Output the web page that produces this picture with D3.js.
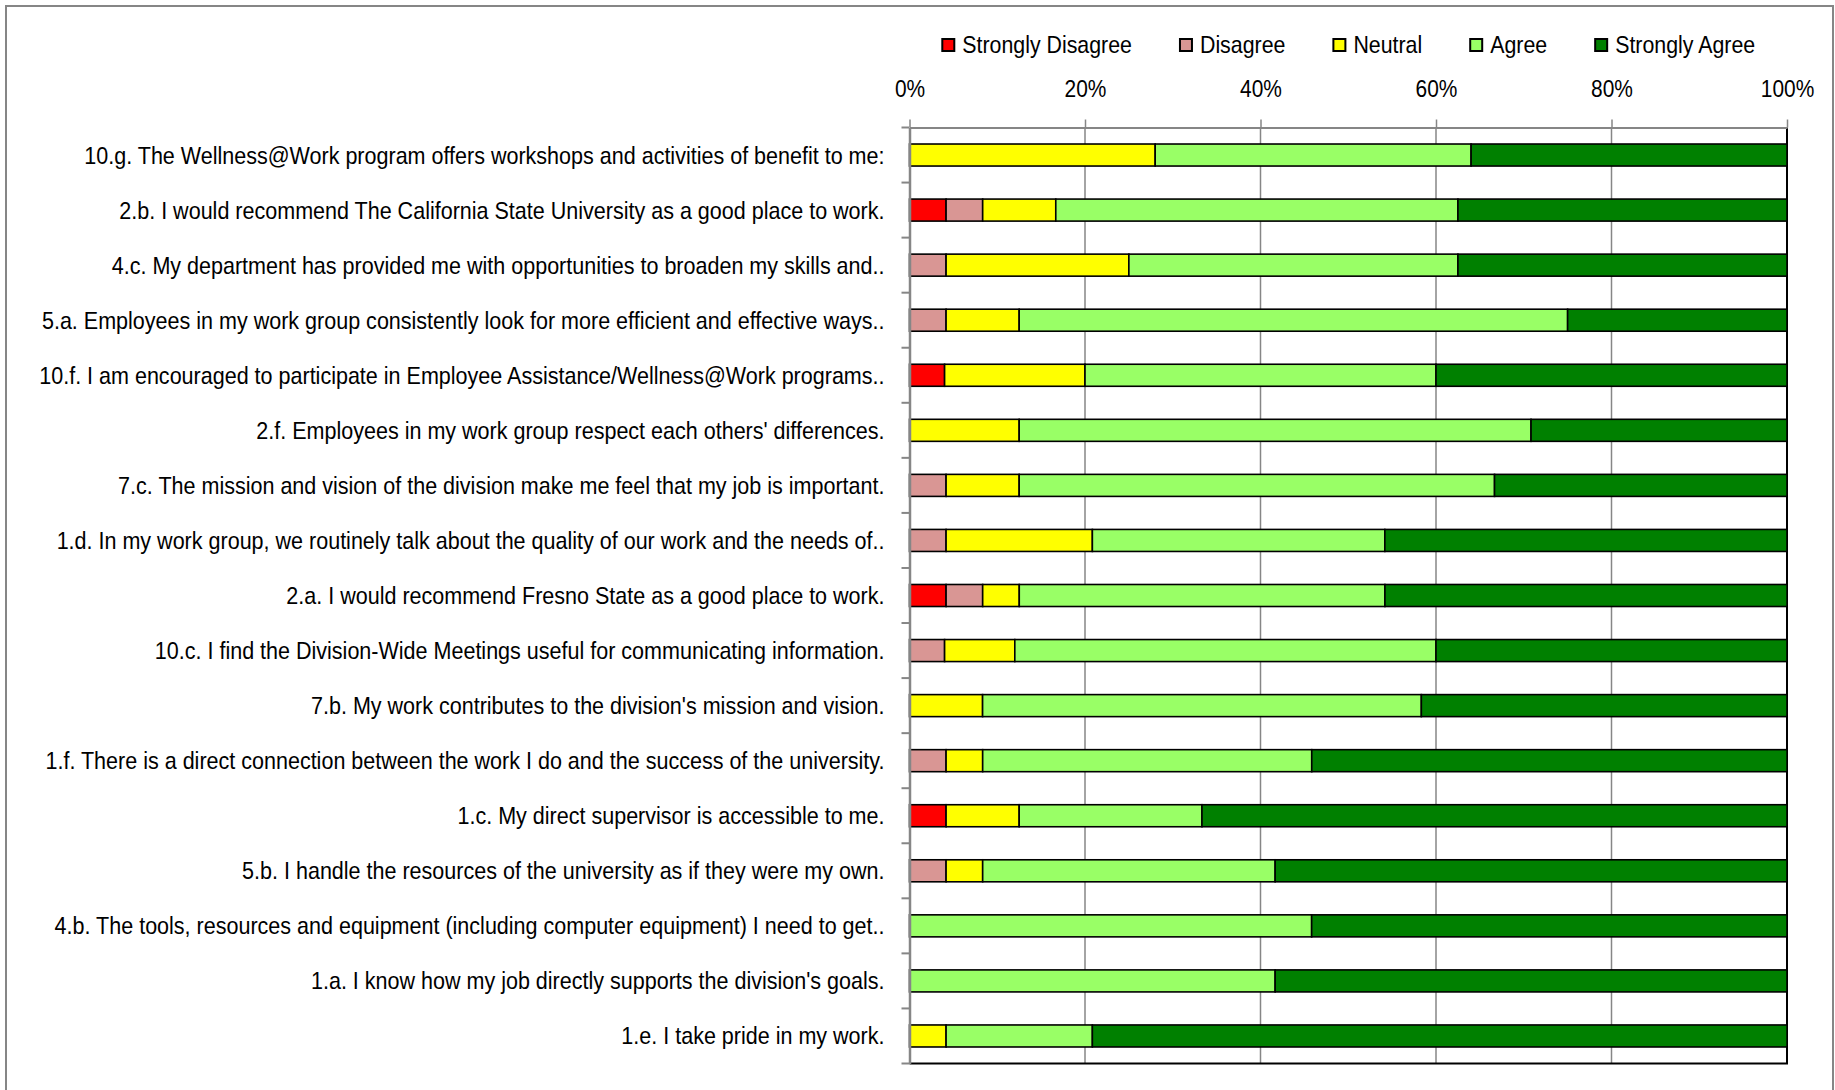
<!DOCTYPE html>
<html>
<head>
<meta charset="utf-8">
<script src="https://cdn.jsdelivr.net/npm/d3@7"></script>
<style>
  html, body { margin: 0; padding: 0; background: #fff; }
  svg { display: block; }
  text { font-family: "Liberation Sans", Arial, sans-serif; fill: #000; }
</style>
</head>
<body>
<svg id="chart" width="1835" height="1090"></svg>
<script>
// Survey statements, top to bottom
const categories = [
  "10.g. The Wellness@Work program offers workshops and activities of benefit to me:",
  "2.b. I would recommend The California State University as a good place to work.",
  "4.c. My department has provided me with opportunities to broaden my skills and..",
  "5.a. Employees in my work group consistently look for more efficient and effective ways..",
  "10.f. I am encouraged to participate in Employee Assistance/Wellness@Work programs..",
  "2.f. Employees in my work group respect each others' differences.",
  "7.c. The mission and vision of the division make me feel that my job is important.",
  "1.d. In my work group, we routinely talk about the quality of our work and the needs of..",
  "2.a. I would recommend Fresno State as a good place to work.",
  "10.c. I find the Division-Wide Meetings useful for communicating information.",
  "7.b. My work contributes to the division's mission and vision.",
  "1.f. There is a direct connection between the work I do and the success of the university.",
  "1.c. My direct supervisor is accessible to me.",
  "5.b. I handle the resources of the university as if they were my own.",
  "4.b. The tools, resources and equipment (including computer equipment) I need to get..",
  "1.a. I know how my job directly supports the division's goals.",
  "1.e. I take pride in my work."
];

// Share of responses (%) per statement
const stronglyDisagree = [0, 4.17, 0, 0, 4, 0, 0, 0, 4.17, 0, 0, 0, 4.17, 0, 0, 0, 0];
const disagree         = [0, 4.17, 4.17, 4.17, 0, 0, 4.17, 4.17, 4.17, 4, 0, 4.17, 0, 4.17, 0, 0, 0];
const neutral          = [28, 8.33, 20.83, 8.33, 16, 12.5, 8.33, 16.67, 4.17, 8, 8.33, 4.17, 8.33, 4.17, 0, 0, 4.17];
const agree            = [36, 45.83, 37.5, 62.5, 40, 58.33, 54.17, 33.33, 41.67, 48, 50, 37.5, 20.83, 33.33, 45.83, 41.67, 16.67];
const stronglyAgree    = [36, 37.5, 37.5, 25, 40, 29.17, 33.33, 45.83, 45.83, 40, 41.67, 54.17, 66.67, 58.33, 54.17, 58.33, 79.17];

const seriesNames  = ["Strongly Disagree", "Disagree", "Neutral", "Agree", "Strongly Agree"];
const seriesColors = ["#FF0000", "#D99694", "#FFFF00", "#99FF66", "#008000"];
const tickValues   = [0, 20, 40, 60, 80, 100];

const seriesValues = [stronglyDisagree, disagree, neutral, agree, stronglyAgree];
const rows = categories.map((c, i) => {
  const r = { category: c };
  seriesNames.forEach((k, j) => { r[k] = seriesValues[j][i]; });
  return r;
});

// Narrow lettering: regular sans squeezed horizontally
const squeeze = 0.89;

const svg = d3.select("#chart");
const axisGray = "#868686";

// Outer chart frame
svg.append("rect")
  .attr("x", 6).attr("y", 6).attr("width", 1827).attr("height", 1110)
  .attr("fill", "none").attr("stroke", axisGray).attr("stroke-width", 2);

const plot = { left: 909.5, right: 1787, top: 127.5, bottom: 1063.5 };

const x = d3.scaleLinear().domain([0, 100]).range([plot.left, plot.right]);
const y = d3.scaleBand().domain(categories).range([plot.top, plot.bottom]).padding(0);
const barH = y.step() * 0.4;
const color = d3.scaleOrdinal().domain(seriesNames).range(seriesColors);

// Vertical gridlines
svg.append("g")
  .selectAll("line")
  .data(tickValues.filter(t => t > 0 && t < 100))
  .join("line")
  .attr("x1", d => x(d)).attr("x2", d => x(d))
  .attr("y1", plot.top).attr("y2", plot.bottom)
  .attr("stroke", axisGray).attr("stroke-width", 1.5);

// Right and bottom plot edges
svg.append("line")
  .attr("x1", plot.right).attr("x2", plot.right)
  .attr("y1", plot.top).attr("y2", plot.bottom)
  .attr("stroke", "#000").attr("stroke-width", 2);
svg.append("line")
  .attr("x1", plot.left).attr("x2", plot.right + 1)
  .attr("y1", plot.bottom).attr("y2", plot.bottom)
  .attr("stroke", "#000").attr("stroke-width", 2);

// Stacked bars
const stacked = d3.stack().keys(seriesNames)(rows);
svg.append("g")
  .selectAll("g")
  .data(stacked)
  .join("g")
  .attr("fill", d => color(d.key))
  .selectAll("rect")
  .data(d => d.filter(s => s[1] - s[0] > 0))
  .join("rect")
  .attr("x", d => x(d[0]))
  .attr("width", d => x(d[1]) - x(d[0]))
  .attr("y", d => y(d.data.category) + (y.step() - barH) / 2)
  .attr("height", barH)
  .attr("stroke", "#000")
  .attr("stroke-width", 1.6);

// Top percentage axis
const xAxis = svg.append("g")
  .attr("transform", `translate(0,${plot.top})`)
  .call(d3.axisTop(x).tickValues(tickValues).tickFormat(d => d + "%").tickSize(8).tickSizeOuter(0));
xAxis.attr("font-family", null).attr("font-size", null);
xAxis.select(".domain").attr("stroke", axisGray).attr("stroke-width", 2);
xAxis.selectAll(".tick line").attr("stroke", axisGray).attr("stroke-width", 1.5);
xAxis.selectAll(".tick text")
  .attr("font-size", 23.5)
  .attr("y", null).attr("dy", null)
  .attr("transform", `translate(0,-30.5) scale(${squeeze},1)`);

// Left category axis
const yAxis = svg.append("g")
  .attr("transform", `translate(${plot.left},0)`)
  .call(d3.axisLeft(y).tickSize(0).tickSizeOuter(0));
yAxis.attr("font-family", null).attr("font-size", null);
yAxis.select(".domain").attr("stroke", axisGray).attr("stroke-width", 2.5);
yAxis.selectAll(".tick text")
  .attr("font-size", 24.2)
  .attr("x", null)
  .attr("dy", "0.35em")
  .attr("transform", `translate(-25,0) scale(${squeeze},1)`);

// Ticks on category boundaries
const boundaries = categories.map(c => y(c)).concat([plot.bottom]);
svg.append("g")
  .selectAll("line")
  .data(boundaries)
  .join("line")
  .attr("x1", plot.left - 8).attr("x2", plot.left)
  .attr("y1", d => d).attr("y2", d => d)
  .attr("stroke", axisGray).attr("stroke-width", 2);

// Legend centred over the plot
const legendY = 45;
const legend = svg.append("g");
const items = legend.selectAll("g")
  .data(seriesNames)
  .join("g");
items.append("rect")
  .attr("x", 1).attr("width", 12).attr("height", 12)
  .attr("y", legendY - 6)
  .attr("fill", d => color(d))
  .attr("stroke", "#000").attr("stroke-width", 2);
items.append("text")
  .attr("dy", "0.35em")
  .attr("font-size", 24)
  .attr("transform", `translate(21,${legendY}) scale(${squeeze},1)`)
  .text(d => d);
const itemGap = 47;
let cursor = 0;
const offsets = [];
items.each(function() {
  const w = d3.select(this).select("text").node().getComputedTextLength() * squeeze;
  offsets.push(cursor);
  cursor += 21 + w + itemGap;
});
const legendWidth = cursor - itemGap;
const legendStart = (plot.left + plot.right) / 2 - legendWidth / 2;
items.attr("transform", (d, i) => `translate(${legendStart + offsets[i]},0)`);
</script>
</body>
</html>
